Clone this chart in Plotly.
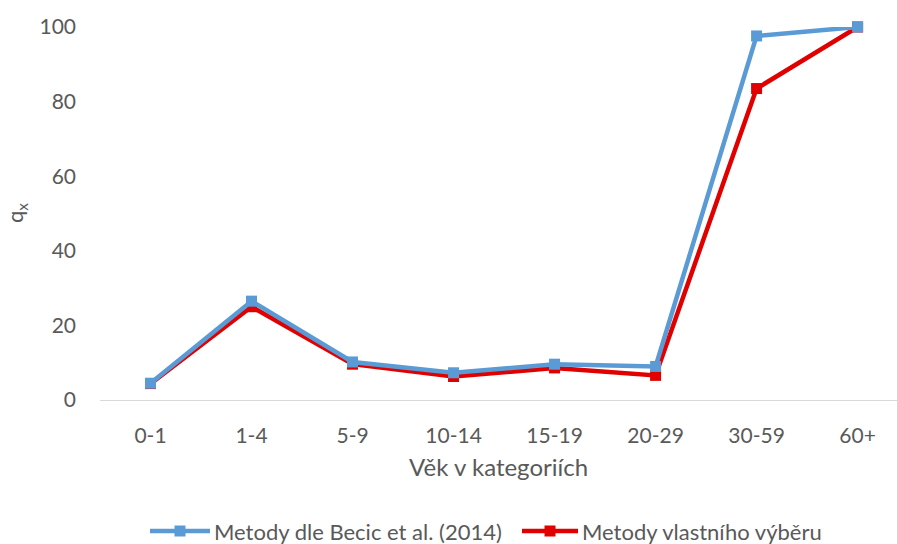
import plotly.graph_objects as go

# Age categories and mortality probability q_x by method
categories = ["0-1", "1-4", "5-9", "10-14", "15-19", "20-29", "30-59", "60+"]
becic_2014 = [4.5, 26.5, 10.2, 7.3, 9.6, 9.0, 97.6, 100.0]
own_selection = [4.4, 25.0, 9.6, 6.3, 8.6, 6.6, 83.5, 100.0]

series_names = ["Metody dle Becic et al. (2014)", "Metody vlastního výběru"]
series_colors = ["#5B9BD5", "#E00000"]
y_ticks = [0, 20, 40, 60, 80, 100]

FONT = "Lato, 'Open Sans', sans-serif"
GREY = "#595959"

W, H = 897, 544
L, R, T, B = 100, 0, 27, 144
PW, PH = W - L - R, H - T - B


def px_x(px):
    return (px - L) / PW


def px_y(py):
    return (H - B - py) / PH


fig = go.Figure()

# red series first so the blue line sits on top of it
fig.add_trace(go.Scatter(
    x=categories, y=own_selection, name=series_names[1],
    mode="lines+markers",
    line=dict(color=series_colors[1], width=4.5),
    marker=dict(symbol="square", size=11, color=series_colors[1]),
    cliponaxis=False, showlegend=False,
))
fig.add_trace(go.Scatter(
    x=categories, y=becic_2014, name=series_names[0],
    mode="lines+markers",
    line=dict(color=series_colors[0], width=4.5),
    marker=dict(symbol="square", size=11, color=series_colors[0]),
    cliponaxis=False, showlegend=False,
))

fig.update_layout(
    width=W, height=H,
    margin=dict(l=L, r=R, t=T, b=B),
    paper_bgcolor="white", plot_bgcolor="white",
    font=dict(family=FONT, size=21, color=GREY),
    showlegend=False,
    xaxis=dict(
        type="category", range=[-0.5, 7.39],
        showgrid=False, showline=True, linecolor="#D9D9D9", linewidth=1,
        ticks="", ticklabelstandoff=17,
        tickfont=dict(family=FONT, size=21, color=GREY),
        title=dict(text="Věk v kategoriích", standoff=12,
                   font=dict(family=FONT, size=24, color=GREY)),
    ),
    yaxis=dict(
        range=[0, 100], tickvals=y_ticks,
        showgrid=False, zeroline=False, showline=False,
        ticks="", ticklabelstandoff=23,
        tickfont=dict(family=FONT, size=21, color=GREY),
    ),
)

# y-axis title with subscript
fig.add_annotation(
    text="q<sub>x</sub>", xref="paper", yref="paper",
    x=px_x(16), y=px_y(213), xanchor="center", yanchor="middle",
    textangle=-90, showarrow=False,
    font=dict(family=FONT, size=22, color=GREY),
)

# legend along the bottom: line + square marker + label for each series
legend_y = 531
legend_items = [(150, 210, 212), (522, 578, 580)]
for (x0, x1, tx), name, color in zip(legend_items, series_names, series_colors):
    fig.add_shape(type="line", xref="paper", yref="paper",
                  x0=px_x(x0), x1=px_x(x1), y0=px_y(legend_y), y1=px_y(legend_y),
                  line=dict(color=color, width=4.5))
    xm = (x0 + x1) / 2
    fig.add_shape(type="rect", xref="paper", yref="paper",
                  x0=px_x(xm - 5.5), x1=px_x(xm + 5.5),
                  y0=px_y(legend_y + 5.5), y1=px_y(legend_y - 5.5),
                  line=dict(width=0), fillcolor=color)
    fig.add_annotation(text=name, xref="paper", yref="paper",
                       x=px_x(tx), y=px_y(legend_y),
                       xanchor="left", yanchor="middle", showarrow=False,
                       font=dict(family=FONT, size=22, color=GREY))

fig.write_html("out.html")
